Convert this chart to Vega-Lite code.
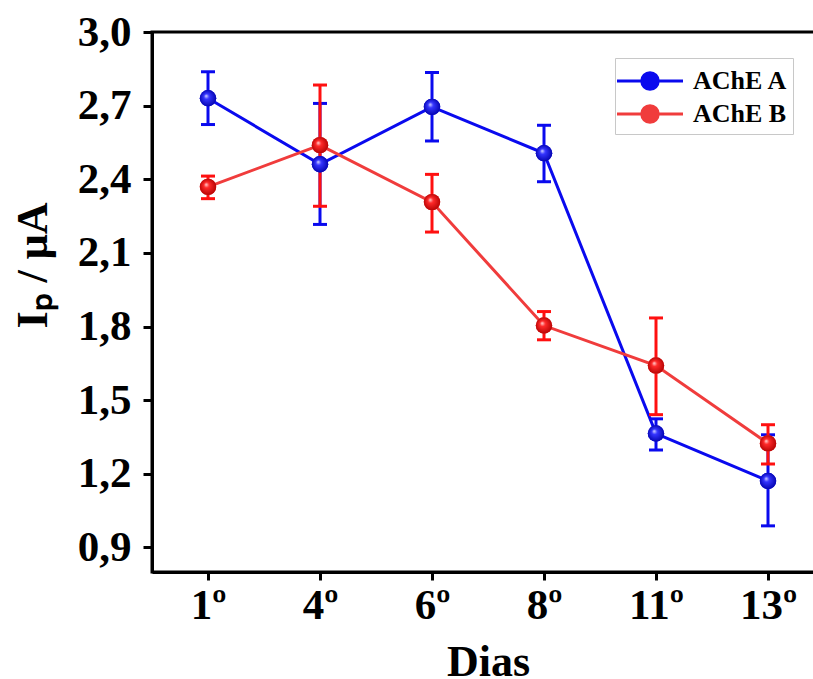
{
  "$schema": "https://vega.github.io/schema/vega-lite/v6.json",
  "autosize": {"type": "none"},
  "padding": {"left": 152, "top": 32, "right": 0, "bottom": 107},
  "width": 672,
  "height": 540,
  "background": "white",
  "config": {
    "view": {"stroke": "black", "strokeWidth": 3},
    "axis": {
      "domainColor": "black", "domainWidth": 3, "tickColor": "black", "tickWidth": 3,
      "grid": false, "labelFont": "Liberation Serif", "labelFontWeight": "bold", "labelFontSize": 43,
      "labelColor": "black", "titleFont": "Liberation Serif", "titleFontWeight": "bold", "titleFontSize": 44, "titleColor": "black"
    },
    "legend": {
      "symbolOpacity": 1, "strokeColor": "#c8c8c8", "fillColor": "white", "padding": 5, "rowPadding": -1,
      "symbolOffset": 12, "labelOffset": 25, "symbolStrokeWidth": 3,
      "labelFont": "Liberation Serif", "labelFontWeight": "bold", "labelFontSize": 26, "labelColor": "black"
    }
  },
  "data": {"values": [
    {"dia": "1º", "serie": "AChE A", "ip": 2.73, "lo": 2.623, "hi": 2.838},
    {"dia": "4º", "serie": "AChE A", "ip": 2.461, "lo": 2.216, "hi": 2.709},
    {"dia": "6º", "serie": "AChE A", "ip": 2.695, "lo": 2.556, "hi": 2.835},
    {"dia": "8º", "serie": "AChE A", "ip": 2.506, "lo": 2.39, "hi": 2.62},
    {"dia": "11º", "serie": "AChE A", "ip": 1.364, "lo": 1.297, "hi": 1.424},
    {"dia": "13º", "serie": "AChE A", "ip": 1.171, "lo": 0.988, "hi": 1.359},
    {"dia": "1º", "serie": "AChE B", "ip": 2.369, "lo": 2.321, "hi": 2.413},
    {"dia": "4º", "serie": "AChE B", "ip": 2.539, "lo": 2.29, "hi": 2.784},
    {"dia": "6º", "serie": "AChE B", "ip": 2.307, "lo": 2.185, "hi": 2.42},
    {"dia": "8º", "serie": "AChE B", "ip": 1.804, "lo": 1.746, "hi": 1.861},
    {"dia": "11º", "serie": "AChE B", "ip": 1.641, "lo": 1.441, "hi": 1.835},
    {"dia": "13º", "serie": "AChE B", "ip": 1.324, "lo": 1.24, "hi": 1.40}
  ]},
  "encoding": {
    "x": {
      "field": "dia", "type": "ordinal", "sort": ["1º", "4º", "6º", "8º", "11º", "13º"],
      "scale": {"type": "point", "padding": 0.5},
      "axis": {"title": "Dias", "labelAngle": 0, "tickSize": 8, "labelPadding": 4, "titlePadding": 13, "titleX": 336}
    }
  },
  "layer": [
    {
      "mark": {"type": "line", "strokeWidth": 3},
      "encoding": {
        "color": {
          "field": "serie", "type": "nominal",
          "scale": {"domain": ["AChE A", "AChE B"], "range": ["#0a0aee", "#f03c3c"]},
          "legend": {
            "title": null, "orient": "none", "legendX": 463, "legendY": 26,
            "symbolType": "M-2,0H-0.5M0.5,0H2M-0.5,0A0.5,0.5 0 1,0 0.5,0A0.5,0.5 0 1,0 -0.5,0Z",
            "symbolSize": 1089, "symbolOpacity": 1
          }
        },
        "y": {
          "field": "ip", "type": "quantitative",
          "scale": {"domain": [0.8, 3.0], "nice": false, "zero": false},
          "axis": {
            "title": "Iₚ / μA",
            "values": [0.9, 1.05, 1.2, 1.35, 1.5, 1.65, 1.8, 1.95, 2.1, 2.25, 2.4, 2.55, 2.7, 2.85, 3.0],
            "labelExpr": "round(datum.value*100) % 30 == 0 ? replace(format(datum.value, '.1f'), '.', ',') : ''",
            "tickSize": {"condition": {"test": "round(datum.value*100) % 30 == 0", "value": 9}, "value": 5},
            "labelPadding": 12, "titlePadding": 22, "titleY": 233
          }
        }
      }
    },
    {
      "transform": [{"filter": "datum.serie == 'AChE A'"}],
      "mark": {"type": "errorbar", "ticks": {"size": 14}, "thickness": 3, "color": "#0a0aee", "opacity": 1},
      "encoding": {
        "y": {"field": "lo", "type": "quantitative", "title": "Iₚ / μA"},
        "y2": {"field": "hi"}
      }
    },
    {
      "transform": [{"filter": "datum.serie == 'AChE B'"}],
      "mark": {"type": "errorbar", "ticks": {"size": 14}, "thickness": 3, "color": "#ff1010", "opacity": 1},
      "encoding": {
        "y": {"field": "lo", "type": "quantitative", "title": "Iₚ / μA"},
        "y2": {"field": "hi"}
      }
    },
    {
      "mark": {"type": "point", "filled": true, "opacity": 1, "size": 270},
      "encoding": {
        "color": {"field": "serie", "type": "nominal"},
        "y": {"field": "ip", "type": "quantitative"}
      }
    },
    {
      "transform": [{"filter": "datum.serie == 'AChE A'"}],
      "mark": {"type": "point", "filled": true, "opacity": 1, "size": 270,
        "fill": {"gradient": "radial", "x1": 0.38, "y1": 0.35, "r1": 0, "x2": 0.5, "y2": 0.5, "r2": 0.55,
          "stops": [{"offset": 0, "color": "#dcdcff"}, {"offset": 0.3, "color": "#3535ff"}, {"offset": 1, "color": "#0000a8"}]}},
      "encoding": {"y": {"field": "ip", "type": "quantitative"}}
    },
    {
      "transform": [{"filter": "datum.serie == 'AChE B'"}],
      "mark": {"type": "point", "filled": true, "opacity": 1, "size": 270,
        "fill": {"gradient": "radial", "x1": 0.38, "y1": 0.35, "r1": 0, "x2": 0.5, "y2": 0.5, "r2": 0.55,
          "stops": [{"offset": 0, "color": "#ffdcdc"}, {"offset": 0.3, "color": "#ff2a2a"}, {"offset": 1, "color": "#b00000"}]}},
      "encoding": {"y": {"field": "ip", "type": "quantitative"}}
    }
  ]
}
